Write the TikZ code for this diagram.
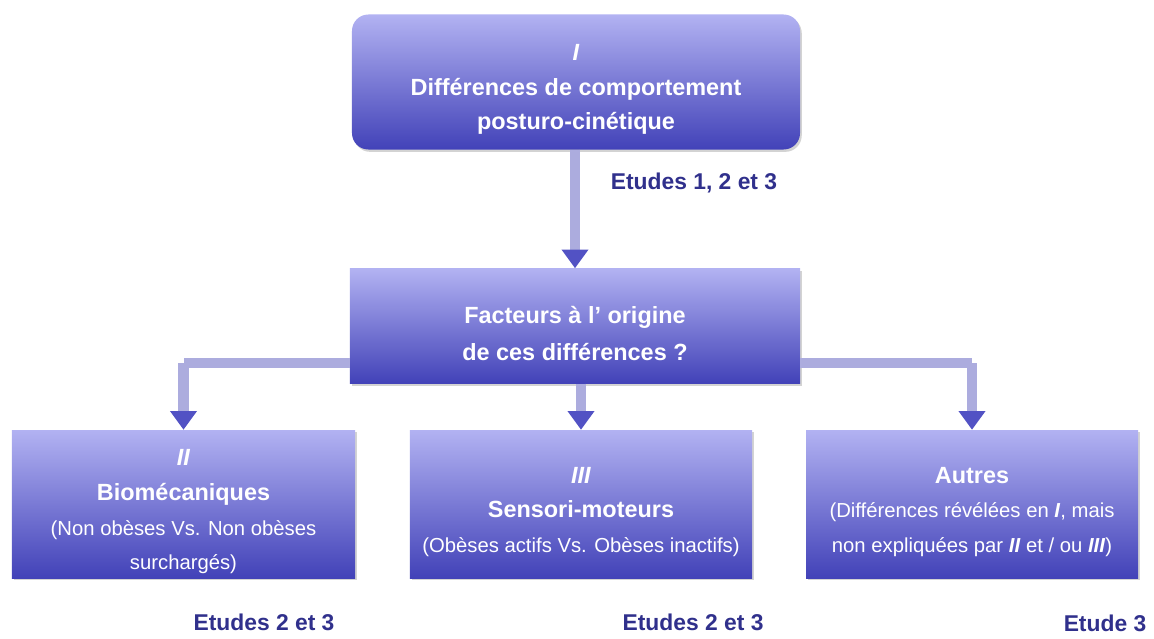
\documentclass[tikz,border=0pt]{standalone}
\usepackage{fontspec}
\setmainfont{Liberation Sans}
\usetikzlibrary{arrows.meta,positioning,shadows}

\definecolor{boxtop}{RGB}{178,178,242}
\definecolor{boxbot}{RGB}{66,66,184}
\definecolor{barcol}{RGB}{172,172,222}
\definecolor{tipcol}{RGB}{82,82,196}
\definecolor{labcol}{RGB}{48,48,140}
\newcommand{\subtxt}[1]{{\mdseries\fontsize{17.3}{27}\selectfont #1}}
\newcommand{\lift}{\rule{0pt}{27pt}}

\begin{document}
\begin{tikzpicture}[
    x=0.03cm, y=-0.03cm,
    block/.style={top color=boxtop, bottom color=boxbot, text=white, align=center,
        inner sep=0pt, font=\bfseries\fontsize{20}{29.5}\selectfont,
        drop shadow={opacity=0.35, shadow xshift=1.5pt, shadow yshift=-2pt}},
    conn/.style={barcol, line width=9pt, -{Triangle[color=tipcol, width=22pt, length=16pt]}},
    bar/.style={barcol, line width=8pt},
    study/.style={text=labcol, font=\bfseries\fontsize{19.5}{22}\selectfont}
]
\useasboundingbox (0,0) rectangle (1154,638);

\coordinate (split) at (575,363);

\node[block, rounded corners=14pt, minimum width=13.44cm, minimum height=4.05cm] (diff) at (576,82)
    {\lift\textit{I}\\Différences de comportement\\posturo-cinétique};
\node[block, minimum width=13.5cm, minimum height=3.45cm, font=\bfseries\fontsize{20}{31.5}\selectfont] (fact) at (575,326)
    {\lift Facteurs à l\textquoteright\ origine\\de ces différences ?};

\node[block, minimum width=10.29cm, minimum height=4.44cm] (bio) at (183.5,504)
    {\lift\textit{II}\\Biomécaniques\\\subtxt{(Non obèses Vs. Non obèses}\\\subtxt{surchargés)}};
\node[block, minimum width=10.26cm, minimum height=4.44cm] (sens) at (581,504)
    {\lift\textit{III}\\Sensori-moteurs\\\subtxt{(Obèses actifs Vs. Obèses inactifs)}};
\node[block, minimum width=9.96cm, minimum height=4.44cm] (autres) at (972,504)
    {\lift Autres\\\subtxt{(Différences révélées en \textbf{\textit{I}}, mais}\\\subtxt{non expliquées par \textbf{\textit{II}} et / ou \textbf{\textit{III}})}};

% connectors
\draw[bar] (fact.west |- split) -- (bio.north |- split);
\draw[bar] (fact.east |- split) -- (autres.north |- split);
\draw[conn] (diff.south -| fact.north) -- (fact.north);
\draw[conn] (bio.north |- split) -- (bio.north);
\draw[conn] (fact.south -| sens.north) -- (sens.north);
\draw[conn] (autres.north |- split) -- (autres.north);

% study labels
\node[study] (s1) at (694,183) {Etudes 1, 2 et 3};
\node[study] (s2) at (264,622) {Etudes 2 et 3};
\node[study] (s3) at (693,622) {Etudes 2 et 3};
\node[study] (s4) at (1105,623) {Etude 3};
\end{tikzpicture}
\end{document}
